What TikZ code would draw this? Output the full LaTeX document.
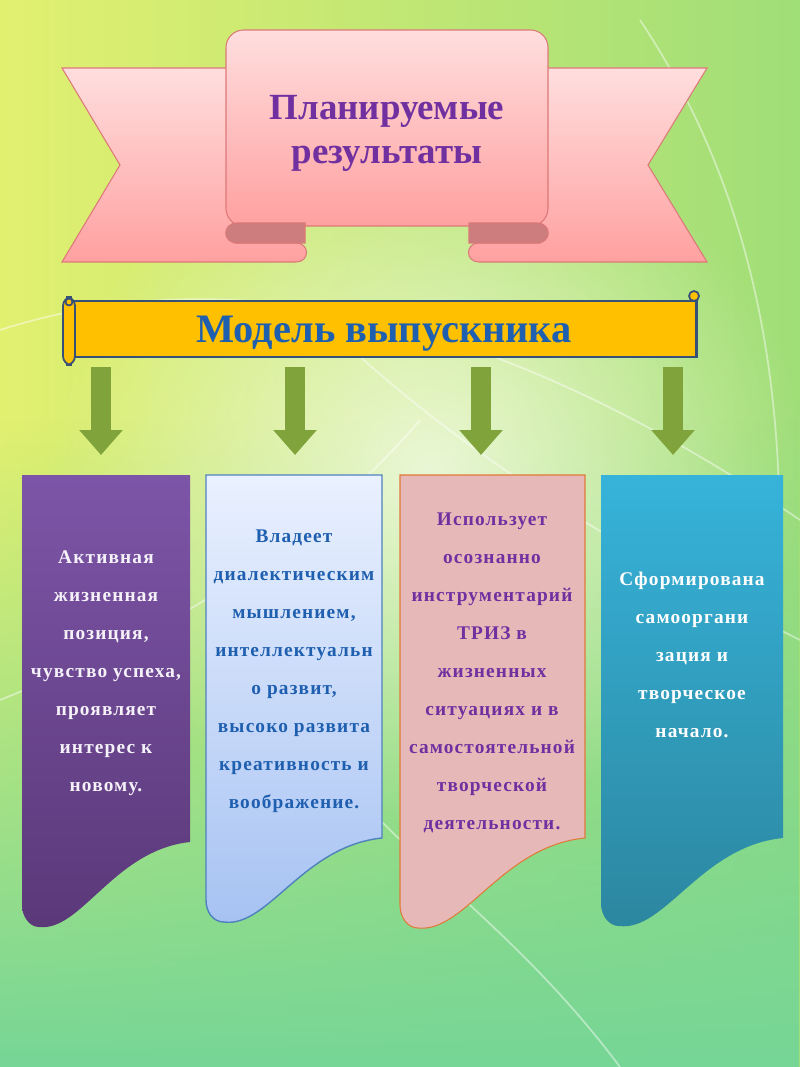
\documentclass[tikz,border=0pt]{standalone}
\usepackage{fontspec}
\setmainfont{Liberation Serif}
\newfontfamily\boxfont[LetterSpace=6]{Liberation Serif}
\usepackage{tikz}
\usetikzlibrary{arrows.meta,positioning,fadings}
\definecolor{bgleft}{RGB}{226,240,112}
\definecolor{bgright}{RGB}{160,222,120}
\definecolor{bgbottom}{RGB}{118,214,150}
\definecolor{pinktop}{RGB}{255,222,222}
\definecolor{pinkbot}{RGB}{255,160,160}
\definecolor{pinkline}{RGB}{220,120,120}
\definecolor{folddark}{RGB}{205,125,125}
\definecolor{titlepurple}{RGB}{112,48,160}
\definecolor{scrollyellow}{RGB}{255,192,0}
\definecolor{scrollline}{RGB}{54,80,120}
\definecolor{modelblue}{RGB}{31,95,176}
\definecolor{arrowgreen}{RGB}{128,163,60}
\definecolor{violettop}{RGB}{125,85,168}
\definecolor{violetbot}{RGB}{90,56,120}
\definecolor{skytop}{RGB}{234,241,255}
\definecolor{skybot}{RGB}{166,194,242}
\definecolor{skyline}{RGB}{79,129,189}
\definecolor{rosefill}{RGB}{230,185,184}
\definecolor{roseline}{RGB}{224,122,58}
\definecolor{tealtop}{RGB}{54,179,218}
\definecolor{tealbot}{RGB}{44,134,159}
\tikzfading[name=fadeup, top color=transparent!100, bottom color=transparent!0]
\tikzfading[name=glow, inner color=transparent!0, outer color=transparent!100]

\begin{document}
\begin{tikzpicture}[x=0.02cm,y=-0.02cm,
  ribbon/.style={draw=pinkline,line width=0.6pt,top color=pinktop,bottom color=pinkbot},
  fold/.style={draw=pinkline,line width=0.6pt,fill=folddark},
  titletext/.style={align=center,text=titlepurple,
    font=\bfseries\fontsize{21}{25}\selectfont},
  scrollbar/.style={rectangle,draw=scrollline,line width=1.4pt,fill=scrollyellow,
    minimum width=12.5cm,minimum height=1.1cm,text=modelblue,
    text height=20pt,text depth=5pt,
    font=\bfseries\fontsize{23}{27}\selectfont},
  scrollroll/.style={draw=scrollline,fill=scrollyellow,line width=1pt},
  greenarrow/.style={arrowgreen,line width=0.4cm,
    -{Triangle[width=0.84cm,length=0.5cm]},shorten <=0.18cm},
  boxtext/.style={align=center,font=\boxfont\bfseries\fontsize{11}{21.6}\selectfont},
  streak/.style={white,line width=1pt,opacity=0.45},
]
  \useasboundingbox (0,0) rectangle (800,1067);
  % background
  \shade[left color=bgleft,right color=bgright] (0,0) rectangle (800,1067);
  \fill[bgbottom,path fading=fadeup] (0,420) rectangle (800,1067);
  \fill[white,opacity=0.7,path fading=glow] (430,470) ellipse (7.5cm and 7cm);
  \draw[streak] (0,330) .. controls (250,250) and (520,330) .. (800,520);
  \draw[streak] (300,300) .. controls (420,420) and (560,520) .. (800,640);
  \draw[streak] (640,20) .. controls (760,200) and (800,420) .. (770,700);
  \draw[streak] (0,700) .. controls (150,640) and (300,560) .. (420,420);
  \draw[streak] (380,820) .. controls (460,900) and (540,960) .. (620,1067);

  % banner
  \path[ribbon] (62,68) -- (235,68) -- (235,243) -- (296,243)
    .. controls (310,243) and (310,262) .. (296,262) -- (62,262) -- (120,165) -- cycle;
  \path[ribbon] (707,68) -- (540,68) -- (540,243) -- (479,243)
    .. controls (465,243) and (465,262) .. (479,262) -- (707,262) -- (648,165) -- cycle;
  \path[ribbon,rounded corners=10pt] (226,30) rectangle (548,226);
  \path[fold] (305,223) -- (237,223) .. controls (222,223) and (222,243) .. (237,243) -- (305,243) -- cycle;
  \path[fold] (469,223) -- (537,223) .. controls (552,223) and (552,243) .. (537,243) -- (469,243) -- cycle;
  \node[titletext] (title) at (387,133) {Планируемые\\результаты};

  % scroll
  \node[scrollbar] (model) at (384,329) {Модель выпускника};
  \path[scrollroll,rounded corners=5pt] (63,297) rectangle (75,365);
  \path[scrollroll] (69,302) circle (3.5);
  \path[scrollroll] (694,296) circle (5);

  % boxes
  \path[top color=violettop,bottom color=violetbot]
    (22,475) -- (190,475) -- (190,842) .. controls (114,850) and (81,932) .. (39,927)
    .. controls (29,927) and (22,916) .. (22,905) -- cycle;
  \path[draw=skyline,line width=0.8pt,top color=skytop,bottom color=skybot]
    (206,475) -- (382,475) -- (382,838) .. controls (303,846) and (268,928) .. (224,922)
    .. controls (213,922) and (206,912) .. (206,900) -- cycle;
  \path[draw=roseline,line width=0.6pt,fill=rosefill]
    (400,475) -- (585,475) -- (585,838) .. controls (502,846) and (465,933) .. (418,928)
    .. controls (408,928) and (400,918) .. (400,905) -- cycle;
  \path[top color=tealtop,bottom color=tealbot]
    (601,475) -- (783,475) -- (783,838) .. controls (701,846) and (665,932) .. (619,926)
    .. controls (609,926) and (601,916) .. (601,903) -- cycle;

  \node[boxtext,text=white!92!violettop] (activ) at (106,673)
    {Активная\\жизненная\\позиция,\\чувство успеха,\\проявляет\\интерес к\\новому.};
  \node[boxtext,text=modelblue] (dialekt) at (294,671)
    {Владеет\\диалектическим\\мышлением,\\интеллектуальн\\о развит,\\высоко развита\\креативность и\\воображение.};
  \node[boxtext,text=titlepurple] (triz) at (492,673)
    {Использует\\осознанно\\инструментарий\\ТРИЗ в\\жизненных\\ситуациях и в\\самостоятельной\\творческой\\деятельности.};
  \node[boxtext,text=white] (selforg) at (692,655)
    {Сформирована\\самооргани\\зация и\\творческое\\начало.};

  % arrows
  \coordinate (a1) at (101,455);
  \coordinate (a2) at (295,455);
  \coordinate (a3) at (481,455);
  \coordinate (a4) at (673,455);
  \draw[greenarrow] (model.south -| a1) -- (a1);
  \draw[greenarrow] (model.south -| a2) -- (a2);
  \draw[greenarrow] (model.south -| a3) -- (a3);
  \draw[greenarrow] (model.south -| a4) -- (a4);
\end{tikzpicture}
\end{document}
